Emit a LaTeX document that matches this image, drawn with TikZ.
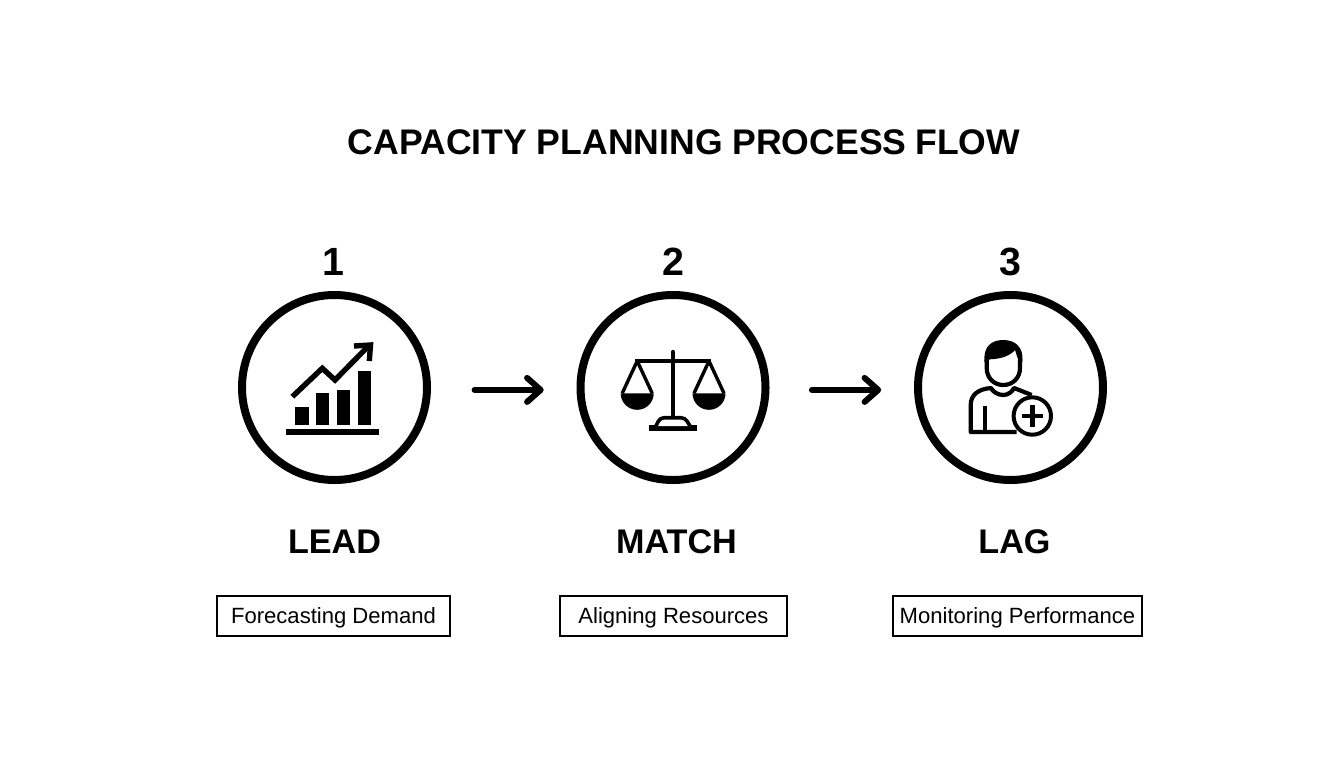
\documentclass[tikz,border=0pt]{standalone}
\usepackage{fontspec}
\setmainfont{Liberation Sans}
\usetikzlibrary{arrows.meta}
\tikzset{
	titletext/.style={anchor=base, inner sep=0, font=\fontsize{25.3}{30}\selectfont\bfseries},
	numtext/.style={anchor=base, inner sep=0, font=\fontsize{28}{34}\selectfont\bfseries},
	nametext/.style={anchor=base, inner sep=0, font=\fontsize{24.3}{28}\selectfont\bfseries},
	ring/.style={draw, circle, line width=2mm, minimum size=46.25mm, inner sep=0},
	subbox/.style={draw, rectangle, line width=0.5mm, inner sep=0, minimum height=10mm, text height=5.9mm, text depth=2mm, font=\fontsize{15.7}{18}\selectfont},
	flow/.style={line width=1.5mm, line cap=round, -{Straight Barb[length=3.4mm, width=6mm, round]}},
	iconline/.style={line width=1.05mm, line join=round}
}
\begin{document}
\begin{tikzpicture}[x=0.25mm, y=-0.25mm]
	\useasboundingbox (0,0) rectangle (1344,768);
	\node[titletext] (title) at (684,154.5) {CAPACITY PLANNING PROCESS\hspace{2.2mm}FLOW};
	\foreach \n/\cx/\numx/\num/\namex/\name/\boxx/\boxw/\sub in {
		lead/334.5/333.5/1/334.5/LEAD/333.5/58.2mm/Forecasting Demand,
		match/673/673.5/2/676.5/MATCH/673.5/56.7mm/Aligning Resources,
		lag/1010.5/1010/3/1014.5/LAG/1017.5/62.2mm/Monitoring Performance}
	{
		\node[ring] (\n) at (\cx,387.5) {};
		\node[numtext] (\n num) at (\numx,275.5) {\num};
		\node[nametext] (\n name) at (\namex,553.5) {\name};
		\node[subbox, minimum width=\boxw] (\n sub) at (\boxx,615.5) {\sub};
	}
	\draw[flow, shorten <=10.9mm, shorten >=8.2mm] ([yshift=-0.6mm]lead.east) -- ([yshift=-0.6mm]match.west);
	\draw[flow, shorten <=10.6mm, shorten >=8.2mm] ([yshift=-0.6mm]match.east) -- ([yshift=-0.6mm]lag.west);

	\foreach \x/\xx/\top in {295/308.7/406.7, 315.7/329/393.3, 336.7/350.3/390.3, 357.7/371/370.7}
	{
		\fill (\x,424.7) rectangle (\xx,\top);
	}
	\fill (286.3,429) rectangle (379,434.7);
	\draw[line width=1.35mm, line join=miter] (292.3,396.7) -- (322.3,368.3) -- (335,380) -- (369,345.5);
	\draw[line width=1.35mm, line join=miter] (354,346) -- (370.5,345) -- (369.3,361);

	\draw[line width=1.1mm, line cap=round] (673,352) -- (673,418);
	\draw[line width=1.1mm] (635,360.7) -- (711,360.7);
	\foreach \x in {637.2, 709}
	{
		\draw[line width=0.85mm, line join=round] (\x-15,393.3) -- (\x,361) -- (\x+15,393.3);
		\fill (\x-16.5,393.3) arc[start angle=180, end angle=0, radius=16.5] -- cycle;
	}
	\fill (649.3,425.3) rectangle (697.3,430.7);
	\draw[line width=0.9mm, rounded corners=1mm, fill=white] (656,426) -- (660,417.7) -- (685,417.7) -- (690,426);

	\draw[iconline] (986.7,360) -- (986.7,368) .. controls (986.7,378) and (994,385) .. (1003.3,385) .. controls (1012.6,385) and (1020,378) .. (1020,368) -- (1020,360);
	\fill (984.5,362) .. controls (983,346) and (992,340) .. (1003.3,340) .. controls (1015,340) and (1024,347) .. (1022.3,362) -- (1018.3,360) -- (1015,350) .. controls (1011,355) and (1002,359) .. (990,359.3) -- cycle;
	\draw[iconline] (1016.7,432) -- (970.7,432) -- (970.7,405) .. controls (970.7,395) and (978,389) .. (991,388) .. controls (993,392) and (998,395) .. (1003.3,395) .. controls (1008,395) and (1012,392) .. (1014,388) -- (1031.7,395);
	\draw[iconline] (985,406) -- (985,431);
	\draw[line width=1mm, fill=white] (1032.3,416) circle (18.7);
	\draw[line width=1.15mm] (1021.5,416) -- (1043.3,416);
	\draw[line width=1.15mm] (1032.3,405) -- (1032.3,426.7);
\end{tikzpicture}
\end{document}
